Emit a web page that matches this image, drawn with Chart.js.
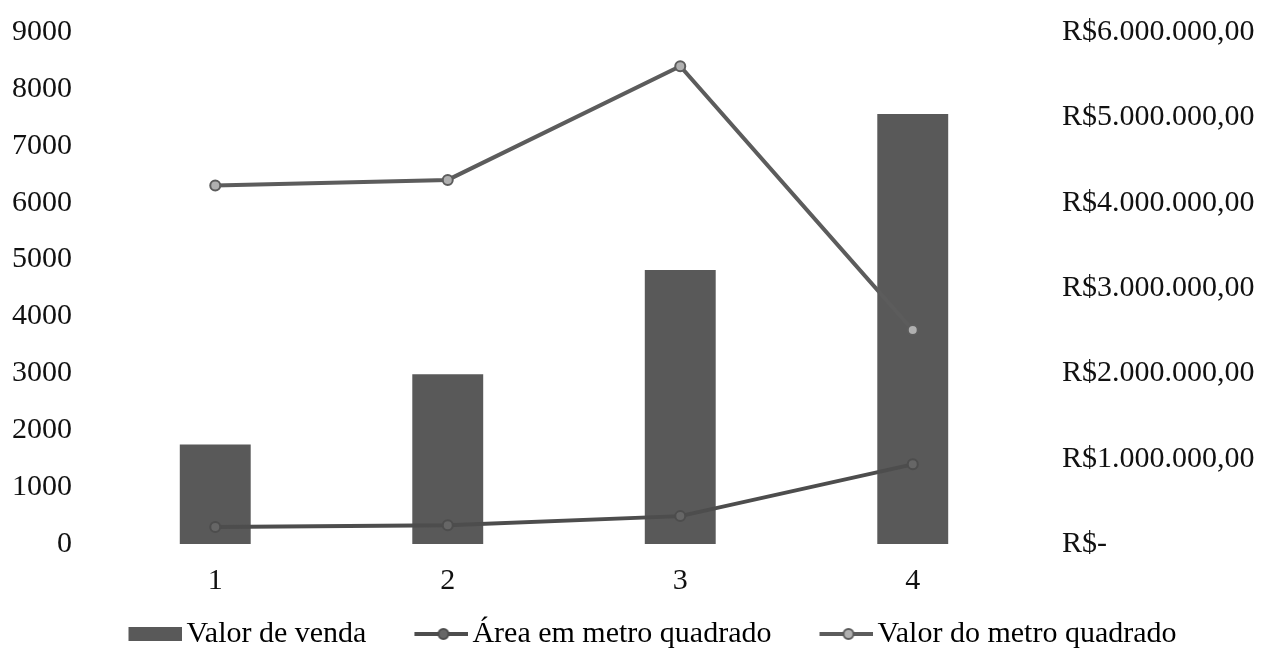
<!DOCTYPE html>
<html>
<head>
<meta charset="utf-8">
<script src="https://cdn.jsdelivr.net/npm/chart.js@4.4.1/dist/chart.umd.min.js"></script>
<style>
  html, body { margin: 0; padding: 0; background: #fff; }
  #wrap { width: 1267px; height: 648px; }
</style>
</head>
<body>
<div id="wrap"><canvas id="chart" width="1267" height="648"></canvas></div>
<script>
const categories = ['1', '2', '3', '4'];
const valorVenda = [1165000, 1990000, 3210000, 5040000];
const areaM2 = [300, 330, 490, 1400];
const valorM2 = [6300, 6400, 8400, 3760];

const seriesNames = ['Valor de venda', 'Área em metro quadrado', 'Valor do metro quadrado'];
const leftMax = 9000;
const rightMax = 6000000;

const FONT = 'Liberation Serif';
const FONT_SIZE = 30;
const barColor = '#595959';
const areaColor = '#4d4d4d';
const valorM2Color = '#5c5c5c';

function formatReais(v) {
    if (v === 0) return 'R$-';
    const s = Math.round(v).toString().replace(/\B(?=(\d{3})+(?!\d))/g, '.');
    return 'R$' + s + ',00';
}

// legend symbols: drawn right-aligned so they sit close to their text
const SYM_BOX = 81;
const SYM_W = SYM_BOX + 22;
function legendSymbol(kind, color, markerFill) {
    const c = document.createElement('canvas');
    c.width = SYM_W;
    c.height = 22;
    const ctx = c.getContext('2d');
    const x0 = SYM_W - 54;
    if (kind === 'bar') {
        ctx.fillStyle = color;
        ctx.fillRect(x0, 4, 54, 14);
    } else {
        ctx.strokeStyle = color;
        ctx.lineWidth = 4;
        ctx.beginPath();
        ctx.moveTo(x0, 11);
        ctx.lineTo(SYM_W, 11);
        ctx.stroke();
        ctx.beginPath();
        ctx.arc(x0 + 29, 11, 5, 0, Math.PI * 2);
        ctx.fillStyle = markerFill;
        ctx.fill();
        ctx.lineWidth = 2;
        ctx.stroke();
    }
    return c;
}

const symbols = [
    legendSymbol('bar', barColor),
    legendSymbol('line', areaColor, '#666'),
    legendSymbol('line', valorM2Color, '#b0b0b0')
];

// pull the plot area up to where the reference starts it
function trimTop(s) {
    s.paddingTop = 32;
}

new Chart(document.getElementById('chart'), {
    type: 'bar',
    data: {
        labels: categories,
        datasets: [
            {
                type: 'bar',
                label: seriesNames[0],
                data: valorVenda,
                yAxisID: 'y1',
                backgroundColor: barColor,
                categoryPercentage: 1,
                barPercentage: 0.305,
                order: 3
            },
            {
                type: 'line',
                label: seriesNames[1],
                data: areaM2,
                yAxisID: 'y',
                borderColor: areaColor,
                borderWidth: 4,
                pointRadius: 5,
                pointBackgroundColor: '#666',
                pointBorderColor: areaColor,
                pointBorderWidth: 2,
                tension: 0,
                order: 1
            },
            {
                type: 'line',
                label: seriesNames[2],
                data: valorM2,
                yAxisID: 'y',
                borderColor: valorM2Color,
                borderWidth: 4,
                pointRadius: 5,
                pointBackgroundColor: '#b0b0b0',
                pointBorderColor: valorM2Color,
                pointBorderWidth: 2,
                tension: 0,
                order: 2
            }
        ]
    },
    options: {
        responsive: false,
        animation: false,
        layout: { padding: { left: 8, right: 8, top: 0, bottom: -11 } },
        plugins: {
            tooltip: { enabled: false },
            legend: {
                position: 'bottom',
                labels: {
                    usePointStyle: true,
                    pointStyleWidth: SYM_BOX,
                    padding: 10,
                    color: '#111',
                    font: { family: FONT, size: FONT_SIZE },
                    generateLabels: () => seriesNames.map((name, i) => ({
                        text: name,
                        pointStyle: symbols[i],
                        fillStyle: 'transparent',
                        strokeStyle: 'transparent',
                        lineWidth: 0,
                        datasetIndex: i
                    }))
                }
            }
        },
        scales: {
            x: {
                grid: { display: false },
                border: { display: false },
                ticks: { color: '#111', padding: 11, font: { family: FONT, size: FONT_SIZE } },
                afterFit: s => { s.height = 65; }
            },
            y: {
                position: 'left',
                min: 0,
                max: leftMax,
                grid: { display: false },
                border: { display: false },
                ticks: {
                    stepSize: 1000,
                    color: '#111',
                    padding: 19,
                    font: { family: FONT, size: FONT_SIZE },
                    callback: v => String(v)
                },
                afterFit: s => { s.width = 91; trimTop(s); }
            },
            y1: {
                position: 'right',
                min: 0,
                max: rightMax,
                grid: { display: false },
                border: { display: false },
                ticks: {
                    stepSize: 1000000,
                    color: '#111',
                    padding: 25,
                    font: { family: FONT, size: FONT_SIZE },
                    callback: v => formatReais(v)
                },
                afterFit: s => { s.width = 230; trimTop(s); }
            }
        }
    }
});
</script>
</body>
</html>
